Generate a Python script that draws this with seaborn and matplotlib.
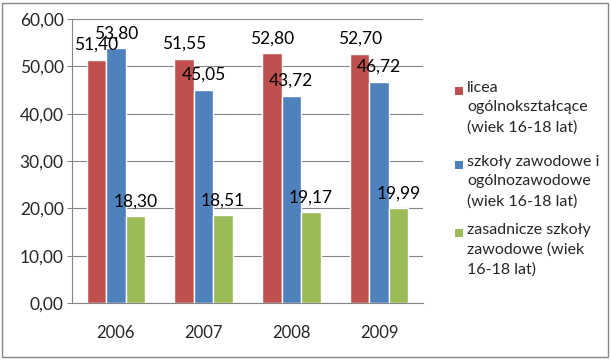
import pandas as pd
import numpy as np
import matplotlib
matplotlib.use("Agg")
import matplotlib.pyplot as plt
from matplotlib.patches import Rectangle
import seaborn as sns

years = ["2006", "2007", "2008", "2009"]
series = [
    "licea\nogólnokształcące\n(wiek 16-18 lat)",
    "szkoły zawodowe i\nogólnozawodowe\n(wiek 16-18 lat)",
    "zasadnicze szkoły\nzawodowe (wiek\n16-18 lat)",
]
licea = [51.40, 51.55, 52.80, 52.70]
zawodowe = [53.80, 45.05, 43.72, 46.72]
zasadnicze = [18.30, 18.51, 19.17, 19.99]
colors = ["#C0504D", "#4F81BD", "#9BBB59"]

df = pd.DataFrame({
    "rok": years * 3,
    "seria": [series[0]] * 4 + [series[1]] * 4 + [series[2]] * 4,
    "wartosc": licea + zawodowe + zasadnicze,
})

sns.set_style("white")
plt.rcParams["font.family"] = ["Lato", "DejaVu Sans"]

fig = plt.figure(figsize=(6.11, 3.6), dpi=100)
ax = fig.add_axes([0.1178, 0.1583, 0.5745, 0.7889])

sns.barplot(data=df, x="rok", y="wartosc", hue="seria", palette=colors,
            saturation=1, width=0.667, legend=False, ax=ax, zorder=3)

def fmt(v):
    return f"{v:.2f}".replace(".", ",")

for cont in ax.containers:
    ax.bar_label(cont, labels=[fmt(b.get_height()) for b in cont],
                 padding=5, fontsize=12.5, color="black")

ax.set_ylim(0, 60)
ax.set_xlim(-0.5, 3.5)
ax.set_yticks(np.arange(0, 61, 10))
ax.set_yticklabels([fmt(v) for v in np.arange(0, 61, 10)], fontsize=12.5)
ax.set_xticks(range(len(years)))
ax.set_xticklabels(years, fontsize=12)
ax.set_xticks(np.arange(-0.5, 4, 1), minor=True)
ax.tick_params(axis="x", which="major", length=0, pad=16)
ax.tick_params(axis="x", which="minor", length=4, color="#868686", direction="out")
ax.tick_params(axis="y", length=3.5, color="#868686", direction="out", left=True, pad=2.5)
ax.set_xlabel("")
ax.set_ylabel("")
ax.grid(axis="y", color="#868686", linewidth=0.8, zorder=0)
ax.set_axisbelow(True)
for s in ["top", "right"]:
    ax.spines[s].set_visible(False)
for s in ["left", "bottom"]:
    ax.spines[s].set_color("#868686")
    ax.spines[s].set_linewidth(0.8)

# manual legend: marker aligned to first line of each entry
W, H = 611, 360
entry_top = [81, 155, 223]
for lab, col, top in zip(series, colors, entry_top):
    fig.patches.append(Rectangle((455 / W, (H - top - 14) / H), 8 / W, 8 / H,
                                 transform=fig.transFigure, facecolor=col,
                                 edgecolor="none"))
    fig.text(467 / W, (H - top) / H, lab, fontsize=11.5, va="top", ha="left",
             linespacing=1.5)

# outer chart border
fig.patches.append(Rectangle((2 / W, 3 / H), 606 / W, 354 / H,
                             transform=fig.transFigure, facecolor="none",
                             edgecolor="#868686", linewidth=1.0))

fig.savefig("out.png", dpi=100)
